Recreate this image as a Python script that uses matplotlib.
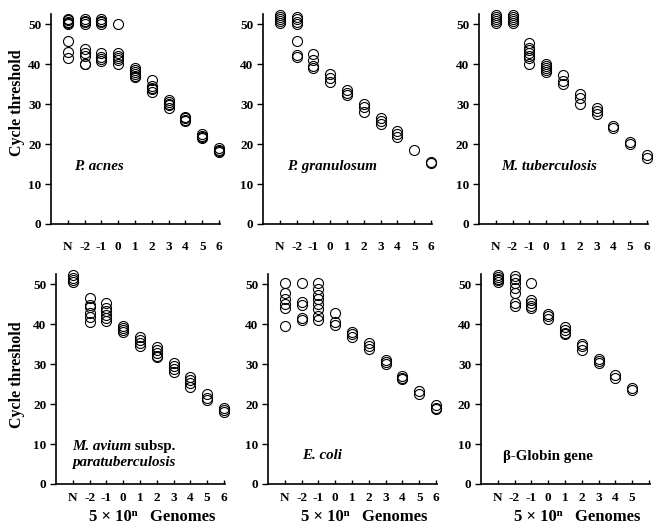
import matplotlib
matplotlib.use("Agg")
import matplotlib.pyplot as plt

plt.rcParams['font.family'] = ['Liberation Serif', 'DejaVu Serif']
plt.rcParams['font.weight'] = 'bold'

# x categories (5 x 10^n genomes, N = no template)
dilutions = ["N", "-2", "-1", "0", "1", "2", "3", "4", "5", "6"]

# Cycle threshold readings per dilution, one list per panel
p_acnes = [
    [51.3, 51, 50.6, 50.3, 50, 45.7, 43, 41.4],
    [51.2, 50.8, 50.4, 50, 43.8, 42.8, 42, 40.1, 39.9],
    [51.2, 50.8, 50.4, 50, 42.8, 41.7, 41.2, 40.7],
    [50, 42.8, 42.1, 41.6, 41.1, 39.9],
    [39, 38.5, 38, 37.5, 37, 36.7],
    [35.9, 34.5, 34, 33.7, 33.1],
    [30.9, 30.4, 30, 29.8, 29.1],
    [26.8, 26.4, 26.1, 25.7],
    [22.4, 22.1, 21.8, 21.6],
    [19, 18.6, 18.3, 17.9],
]
p_granulosum = [
    [52.2, 51.7, 51.2, 50.7, 50.2],
    [51.8, 51.2, 50.6, 50, 45.8, 42.3, 41.7],
    [42.5, 41.1, 39.4, 39],
    [37.5, 36.4, 35.6],
    [33.4, 32.8, 32.3],
    [29.9, 29.3, 27.9],
    [26.6, 25.8, 25],
    [23.3, 22.5, 21.7],
    [18.5],
    [15.6, 15.2],
]
m_tuberculosis = [
    [52.2, 51.7, 51.2, 50.7, 50.2],
    [52.2, 51.7, 51.2, 50.7, 50.2],
    [45.2, 44, 43.6, 42.8, 41.9, 41.5, 40],
    [40, 39.5, 39, 38.5, 38],
    [37.2, 35.7, 34.9],
    [32.6, 31.6, 29.9],
    [29.1, 28.3, 27.6],
    [24.6, 24],
    [20.5, 20],
    [17.2, 16.5],
]
m_avium = [
    [52.2, 51.6, 51, 50.5],
    [46.5, 44.7, 44.2, 42.7, 41.8, 40.6],
    [45.2, 44, 43.2, 42.2, 41.4, 40.8],
    [39.6, 39, 38.4, 37.9],
    [36.8, 36.1, 35.2, 34.4],
    [34.3, 33.5, 32.8, 32.1, 31.7],
    [30.2, 29.6, 28.8, 27.9],
    [26.8, 26, 25.2, 24.3],
    [22.4, 21.6, 20.9],
    [19, 18.5, 18],
]
e_coli = [
    [50.2, 47.8, 46.2, 44.9, 44.1, 39.4],
    [50.2, 45.4, 44.7, 41.6, 41],
    [50.2, 48.7, 47.4, 46.2, 44.9, 43.7, 42, 41],
    [42.7, 40.5, 39.8],
    [38.1, 37.4, 36.7],
    [35.2, 34.4, 33.7],
    [31.1, 30.4, 30],
    [27.1, 26.6, 26.2],
    [23.2, 22.6],
    [19.7, 19.1, 18.7],
]
b_globin = [
    [52.4, 51.9, 51.4, 51, 50.5],
    [52.1, 51.3, 50.4, 49.1, 47.8, 45.2, 44.4],
    [50.3, 46, 45.3, 44.6, 44.1],
    [42.6, 41.9, 41.2],
    [39.3, 38.5, 37.8, 37.4],
    [35, 34.4, 33.6],
    [31.3, 30.7, 30.2],
    [27.3, 26.6],
    [24.1, 23.6],
]

panels = [
    (p_acnes, [0.0776, 0.5774, 0.257, 0.396], "P. acnes", (1.36, 14.4)),
    (p_granulosum, [0.4003, 0.5774, 0.257, 0.396], "P. granulosum", (1.45, 14.4)),
    (m_tuberculosis, [0.729, 0.5774, 0.257, 0.396], "M. tuberculosis", (1.33, 14.4)),
    (m_avium, [0.0852, 0.0868, 0.257, 0.396], None, (0.95, 9.4)),
    (e_coli, [0.408, 0.0868, 0.257, 0.396], "E. coli", (2.05, 7.2)),
    (b_globin, [0.732, 0.0868, 0.257, 0.396], "β-Globin gene", (1.33, 6.8)),
]

fig = plt.figure(figsize=(6.57, 5.30), dpi=100)

for i, (data, rect, name, (tx, ty)) in enumerate(panels):
    ax = fig.add_axes(rect)
    for k, vals in enumerate(data):
        ax.plot([k + 1] * len(vals), vals, ls='none', marker='o', ms=7.2,
                mfc='none', mec='black', mew=0.8, clip_on=False)

    ax.set_xlim(0, 10.05)
    ax.set_ylim(0, 52.5)
    ax.set_yticks([0, 10, 20, 30, 40, 50])
    ax.set_xticks(range(1, 11))
    ax.set_xticklabels(dilutions[:len(data)] + [""] * (10 - len(data)))
    ax.spines['top'].set_visible(False)
    ax.spines['right'].set_visible(False)
    ax.spines['left'].set_linewidth(1.2)
    ax.spines['bottom'].set_linewidth(1.2)
    xpad = 12 if i < 3 else 6
    ax.tick_params(axis='x', direction='in', length=3, width=1, pad=xpad, labelsize=9.5)
    ax.tick_params(axis='y', direction='out', length=4, width=1, pad=3, labelsize=9.5)
    for lab in ax.get_xticklabels() + ax.get_yticklabels():
        lab.set_fontweight('bold')

    if i == 0:
        ax.set_ylabel("Cycle threshold", fontsize=11.5, fontweight='bold')
        ax.yaxis.set_label_coords(-0.154, 0.58)
    elif i == 3:
        ax.set_ylabel("Cycle threshold", fontsize=11.5, fontweight='bold')
        ax.yaxis.set_label_coords(-0.183, 0.52)
    if i >= 3:
        ax.text(0.57, -0.157, "5 × 10ⁿ   Genomes", transform=ax.transAxes,
                ha='center', va='center', fontsize=12, fontweight='bold')

    fs = 10.8
    if name is None:
        t1 = ax.text(tx, ty, "M. avium", style='italic', fontweight='bold',
                     fontsize=fs, va='center')
        ax.annotate(" subsp.", xy=(1, 0), xycoords=t1, va='bottom',
                    fontweight='bold', fontsize=fs)
        ax.text(tx, ty - 4.0, "paratuberculosis", style='italic',
                fontweight='bold', fontsize=fs, va='center')
    elif name.startswith("β"):
        ax.text(tx, ty, name, fontweight='bold', fontsize=fs, va='center')
    else:
        ax.text(tx, ty, name, style='italic', fontweight='bold', fontsize=fs,
                va='center')

fig.savefig("out.png", dpi=100)
